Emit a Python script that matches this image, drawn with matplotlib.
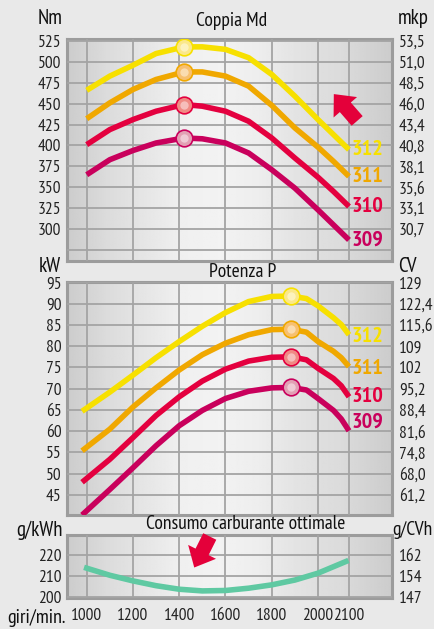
import matplotlib
matplotlib.use("Agg")
import matplotlib.pyplot as plt
from matplotlib.patches import FancyArrowPatch
import numpy as np

plt.rcParams['font.family'] = ['PT Sans Narrow', 'DejaVu Sans']

# --- data ---
models = ['312', '311', '310', '309']
line_colors = ['#f7e000', '#f0a800', '#e4003f', '#c9005c']
ball_colors = ['#fbe88a', '#f7c070', '#f08a84', '#e2a0b4']

rpm_torque = [1000, 1100, 1200, 1300, 1421, 1500, 1600, 1700, 1800, 1900, 2000, 2050, 2100]
torque = {
    '312': [466, 483, 496, 510, 518, 518, 515, 505, 485, 459, 431, 413, 395],
    '311': [432, 451, 467, 479, 488, 488, 483, 471, 448, 421, 398, 381, 363],
    '310': [401, 419, 431, 441, 449, 447, 441, 429, 409, 385, 362, 345, 327],
    '309': [365, 383, 394, 403, 409, 408, 403, 391, 371, 349, 323, 305, 287],
}

rpm_power = [980, 1100, 1200, 1300, 1400, 1500, 1600, 1700, 1800, 1884, 1950, 2000, 2050, 2075, 2100]
power = {
    '312': [64.7, 69.2, 73.2, 77.3, 81.1, 84.7, 87.9, 90.5, 91.7, 91.8, 91.2, 89.5, 86.7, 85.1, 82.7],
    '311': [55.4, 60.5, 65.7, 70.2, 74.4, 78.0, 80.7, 82.7, 83.9, 84.0, 83.3, 81.1, 78.8, 77.3, 75.2],
    '310': [48.0, 53.4, 58.5, 63.7, 68.1, 71.8, 74.6, 76.5, 77.4, 77.5, 76.8, 74.8, 72.4, 70.7, 68.1],
    '309': [40.3, 46.3, 51.4, 56.6, 61.3, 64.9, 67.7, 69.4, 70.2, 70.3, 69.7, 67.7, 64.9, 62.9, 60.1],
}

rpm_fuel = [1000, 1100, 1200, 1300, 1400, 1500, 1600, 1700, 1800, 1900, 2000, 2090]
fuel = [213.7, 210.3, 207.6, 205.3, 203.6, 202.8, 203.0, 204.1, 205.7, 208.0, 211.3, 216.9]

rpm_ticks = [1000, 1200, 1400, 1600, 1800, 2000, 2100]
nm_ticks = [275, 300, 325, 350, 375, 400, 425, 450, 475, 500, 525]
mkp_labels = ['', '30,7', '33,1', '35,6', '38,1', '40,8', '43,4', '46,0', '48,5', '51,0', '53,5']
kw_ticks = [45, 50, 55, 60, 65, 70, 75, 80, 85, 90, 95]
cv_labels = ['61,2', '68,0', '74,8', '81,6', '88,4', '95,2', '102', '109', '115,6', '122,4', '129']
gkwh_ticks = [200, 210, 220]
gcvh_labels = ['147', '154', '162']

W, H = 434, 629
fig = plt.figure(figsize=(W / 100, H / 100), dpi=100)
fig.patch.set_facecolor('#e9e9e9')

# the printed x axis is not quite linear: the 2000-2100 step is wider
knot_rpm = np.array([0.0, 2000.0, 2100.0, 3000.0])
knot_px = np.array([86.7 - 231.3, 318.0, 349.0, 349.0 + 900 * 0.31])
fwd = lambda x: np.interp(x, knot_rpm, knot_px)
inv = lambda p: np.interp(p, knot_px, knot_rpm)
xlo, xhi = inv(67.0), inv(392.0)


def px_box(top, bottom, left=67, right=392):
    return [left / W, 1 - bottom / H, (right - left) / W, (bottom - top) / H]


grad = np.array([0.80, 0.86, 0.90, 0.94, 0.95, 0.93, 0.89, 0.86, 0.80])
TICK_FS = 12.5


def setup(ax, ylim, yticks, ylabels, rlabels):
    ax.set_xscale('function', functions=(fwd, inv))
    ax.set_xlim(xlo, xhi)
    ax.set_ylim(*ylim)
    g = np.interp(np.linspace(0, 1, 300), np.linspace(0, 1, len(grad)), grad)
    ax.imshow(np.tile(g, (2, 1)), cmap='gray', vmin=0, vmax=1, aspect='auto',
              extent=[xlo, xhi, ylim[0], ylim[1]], zorder=0)
    ax.set_xticks(rpm_ticks)
    ax.set_yticks(yticks)
    ax.set_yticklabels(ylabels)
    ax.grid(True, color='#a4a4a4', lw=1.3, zorder=1)
    ax.set_axisbelow(False)
    ax.tick_params(length=0, labelsize=TICK_FS, colors='#222222', pad=4)
    ax.tick_params(axis='x', labelbottom=False)
    for s in ax.spines.values():
        s.set_color('#9c9c9c')
        s.set_linewidth(2.2)
    r = ax.twinx()
    r.set_ylim(*ylim)
    r.set_yticks(yticks)
    r.set_yticklabels(rlabels)
    r.tick_params(length=0, labelsize=TICK_FS, colors='#222222', pad=5)
    for s in r.spines.values():
        s.set_visible(False)
    return ax


def ball(ax, x, y, c, fc):
    ax.plot(x, y, 'o', ms=12, mfc=fc, mec=c, mew=1.2, zorder=5)
    ax.plot(x, y, 'o', ms=6, mfc='white', mec='none', alpha=0.45, zorder=6)


# --- torque ---
ax1 = fig.add_axes(px_box(39, 261))
setup(ax1, (261.8, 527.4), nm_ticks, [str(t) if t >= 300 else '' for t in nm_ticks], mkp_labels)
for m, c, bc in zip(models, line_colors, ball_colors):
    y = torque[m]
    ax1.plot(rpm_torque, y, color=c, lw=4, solid_capstyle='butt', solid_joinstyle='round', zorder=3)
    i = int(np.argmax(y))
    ball(ax1, rpm_torque[i], y[i], c, bc)
    ax1.annotate(m, (rpm_torque[-1], y[-1]), xytext=(2, 0), textcoords='offset points',
                 color=c, fontsize=16, fontweight='bold', va='center', ha='left', zorder=4)

# --- power ---
ax2 = fig.add_axes(px_box(282, 515))
setup(ax2, (40.3, 95.1), kw_ticks, [str(t) for t in kw_ticks], cv_labels)
label_dy = {'312': -1, '311': -1, '310': 0, '309': 6}
for m, c, bc in zip(models, line_colors, ball_colors):
    y = power[m]
    ax2.plot(rpm_power, y, color=c, lw=4, solid_capstyle='butt', solid_joinstyle='round', zorder=3)
    i = int(np.argmax(y))
    ball(ax2, rpm_power[i], y[i], c, bc)
    ax2.annotate(m, (rpm_power[-1], y[-1]), xytext=(2, label_dy[m]), textcoords='offset points',
                 color=c, fontsize=16, fontweight='bold', va='center', ha='left', zorder=4)

# --- fuel consumption ---
ax3 = fig.add_axes(px_box(535, 598))
setup(ax3, (199.4, 229.6), gkwh_ticks, [str(t) for t in gkwh_ticks], gcvh_labels)
ax3.plot(rpm_fuel, fuel, color='#5fc9a2', lw=4, zorder=3)
ax3.tick_params(axis='x', labelbottom=True, labelsize=TICK_FS, pad=7)

# --- titles and unit labels ---
def ftext(x, y, s, **kw):
    fig.text(x / W, 1 - y / H, s, va='center', color='#111111', **kw)

ftext(232, 21, 'Coppia Md', ha='center', fontsize=14)
ftext(243, 272, 'Potenza P', ha='center', fontsize=14)
ftext(246, 524, 'Consumo carburante ottimale', ha='center', fontsize=14)
ftext(50, 19, 'Nm', ha='center', fontsize=15)
ftext(413, 19, 'mkp', ha='center', fontsize=15)
ftext(50, 267, 'kW', ha='center', fontsize=15)
ftext(407, 267, 'CV', ha='center', fontsize=15)
ftext(63, 530, 'g/kWh', ha='right', fontsize=15)
ftext(392, 530, 'g/CVh', ha='left', fontsize=14)
ftext(7, 618, 'giri/min.', ha='left', fontsize=14.5)

# --- big red arrows ---
arrow = dict(arrowstyle='simple,head_length=0.9,head_width=1.6,tail_width=0.75',
             color='#e4003a', lw=0, mutation_scale=14, transform=fig.transFigure)
fig.add_artist(FancyArrowPatch((359 / W, 1 - 123 / H), (332 / W, 1 - 92 / H), **arrow))
fig.add_artist(FancyArrowPatch((211 / W, 1 - 534 / H), (193 / W, 1 - 570 / H), **arrow))

fig.savefig('out.png', dpi=100, facecolor=fig.get_facecolor())
